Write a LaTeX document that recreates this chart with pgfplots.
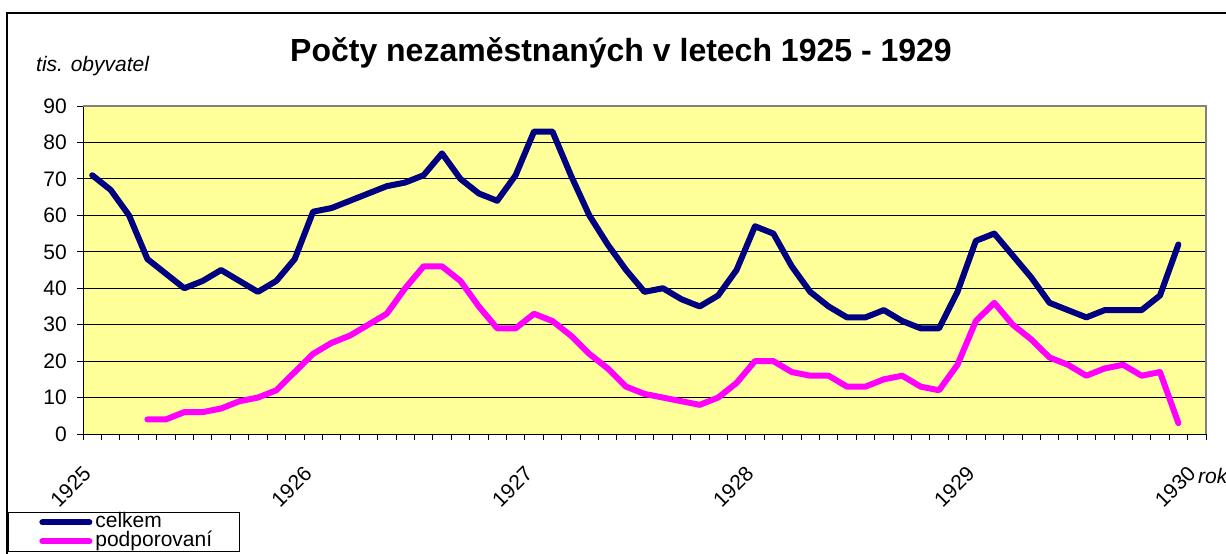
\documentclass[border=0pt]{standalone}
\usepackage{pgfplots}
\pgfplotsset{compat=1.18}
\usepackage{fontspec}
\setmainfont{Liberation Sans}
\definecolor{bgyellow}{HTML}{FFFF99}
\definecolor{navyline}{HTML}{000080}
\definecolor{magline}{HTML}{FF00FF}
\newcommand\fs{\fontsize{21pt}{24pt}\selectfont}
\begin{document}
\begin{tikzpicture}
\draw[line width=1.3pt] (7pt,-13pt) rectangle (1300pt,-620pt);
\begin{axis}[
  name=ax,
  at={(83pt,-434pt)}, anchor=south west,
  width=1123pt, height=328pt, scale only axis,
  xmin=-0.5, xmax=60.5, ymin=0, ymax=90,
  ytick={0,10,...,90},
  xtick={0,12,...,60},
  xticklabels={1925,1926,1927,1928,1929,1930},
  minor xtick={-0.5,0.5,...,60.5},
  major x tick style={draw=none},
  tick pos=left,
  tick align=outside,
  major tick length=6pt, minor tick length=6pt,
  tick style={black, line width=0.8pt},
  ymajorgrids,
  major grid style={black, line width=0.8pt},
  axis line style={black, line width=1pt},
  axis background/.style={fill=bgyellow},
  /pgf/number format/assume math mode=true,
  yticklabel style={font=\fs, inner sep=0pt, xshift=-10pt},
  xticklabel style={font=\fs, inner sep=0pt, xshift=-5pt, yshift=-30pt, rotate=45, anchor=east},
  clip=false,
  legend cell align=left,
  legend image code/.code={\path (0pt,0pt); \draw[#1, line cap=round] (31pt,0pt) -- (78pt,0pt);},
  legend style={at={(-0.0668,-0.2378)}, anchor=north west, draw=black, line width=0.8pt, fill=white,
     inner xsep=0pt, inner ysep=1pt, row sep=1pt, font=\fs,
     nodes={inner xsep=3pt, inner ysep=0pt, text height=14pt, text depth=4pt}},
]
\addplot[navyline, line width=6pt, line join=round, line cap=round] coordinates {
(0,71) (1,67) (2,60) (3,48) (4,44) (5,40) (6,42) (7,45) (8,42) (9,39)
(10,42) (11,48) (12,61) (13,62) (14,64) (15,66) (16,68) (17,69) (18,71) (19,77)
(20,70) (21,66) (22,64) (23,71) (24,83) (25,83) (26,71) (27,60) (28,52) (29,45)
(30,39) (31,40) (32,37) (33,35) (34,38) (35,45) (36,57) (37,55) (38,46) (39,39)
(40,35) (41,32) (42,32) (43,34) (44,31) (45,29) (46,29) (47,39) (48,53) (49,55)
(50,49) (51,43) (52,36) (53,34) (54,32) (55,34) (56,34) (57,34) (58,38) (59,52)
};
\addlegendentry{celkem}
\addplot[magline, line width=6pt, line join=round, line cap=round] coordinates {
(3,4) (4,4) (5,6) (6,6) (7,7) (8,9) (9,10)
(10,12) (11,17) (12,22) (13,25) (14,27) (15,30) (16,33) (17,40) (18,46) (19,46)
(20,42) (21,35) (22,29) (23,29) (24,33) (25,31) (26,27) (27,22) (28,18) (29,13)
(30,11) (31,10) (32,9) (33,8) (34,10) (35,14) (36,20) (37,20) (38,17) (39,16)
(40,16) (41,13) (42,13) (43,15) (44,16) (45,13) (46,12) (47,19) (48,31) (49,36)
(50,30) (51,26) (52,21) (53,19) (54,16) (55,18) (56,19) (57,16) (58,17) (59,3)
};
\addlegendentry{podporovaní\hspace*{24pt}}
\end{axis}
\draw[gray, line width=2pt] (ax.north west) -- (ax.north east) -- (ax.south east);
\node[font=\fontsize{32pt}{36pt}\selectfont\bfseries, anchor=base, inner sep=0pt] at (621pt,-61.7pt) {Počty nezaměstnaných v letech 1925 - 1929};
\node[font=\fs\itshape, anchor=base west, inner sep=0pt] at (36pt,-71pt) {tis. obyvatel};
\node[font=\fs\itshape, anchor=base west, inner sep=0pt] at (1198pt,-483pt) {rok};
\pgfresetboundingbox
\useasboundingbox (0pt,0pt) rectangle (1226pt,-554pt);
\end{tikzpicture}
\end{document}
